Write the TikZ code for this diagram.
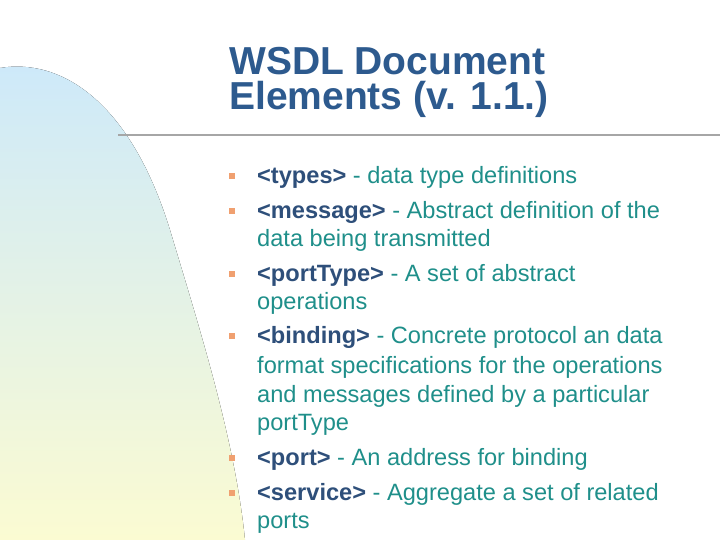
\documentclass[tikz,border=0pt]{standalone}
\usepackage{fontspec}
\setmainfont{Liberation Sans}
\definecolor{ttl}{HTML}{2D5A8E}
\definecolor{tag}{HTML}{2E4F7A}
\definecolor{txt}{HTML}{1F8F8A}
\definecolor{bul}{HTML}{F0A070}
\definecolor{bgtop}{HTML}{CDE9FA}
\definecolor{bgbot}{HTML}{FBFBD2}
\begin{document}
\begin{tikzpicture}[x=1pt,y=-1pt,
  ln/.style={anchor=west,inner sep=0pt,text=txt,font=\fontsize{23.6}{27}\selectfont},
  bl/.style={fill=bul,minimum size=6pt,inner sep=0pt}]
\useasboundingbox (0,0) rectangle (720,540);
\fill[top color=bgtop,bottom color=bgbot] (0,68) .. controls (60,58) and (130,100) .. (170,230) .. controls (200,330) and (235,440) .. (245,540) -- (0,540) -- cycle;
\node[anchor=base west,inner sep=0pt,text=ttl,font=\fontsize{39}{39}\selectfont\bfseries] (t1) at (229,75) {WSDL Document};
\node[anchor=base west,inner sep=0pt,text=ttl,font=\fontsize{39}{39}\selectfont\bfseries] (t2) at (229,110) {Elements (v. 1.1.)};
\coordinate (ra) at (118,135); \coordinate (rb) at (720,135);
\draw[gray!70,line width=1.5pt] (ra) -- (rb);
\foreach \n/\y in {b1/176,b2/211,b3/274,b4/336,b5/458,b6/493}{\node[bl] (\n) at (232,\y) {};}
\newcommand\tg[1]{\textcolor{tag}{\textbf{#1}}}
\node[ln] (l1) at (257,177) {\tg{<types>} - data type definitions};
\node[ln] (l2) at (257,212) {\tg{<message>} - Abstract definition of the};
\node[ln] (l3) at (257,240) {data being transmitted};
\node[ln] (l4) at (257,275) {\tg{<portType>} - A set of abstract};
\node[ln] (l5) at (257,303) {operations};
\node[ln] (l6) at (257,337) {\tg{<binding>} - Concrete protocol an data};
\node[ln] (l7) at (257,367) {format specifications for the operations};
\node[ln] (l8) at (257,396) {and messages defined by a particular};
\node[ln] (l9) at (257,425) {portType};
\node[ln] (l10) at (257,459) {\tg{<port>} - An address for binding};
\node[ln] (l11) at (257,494) {\tg{<service>} - Aggregate a set of related};
\node[ln] (l12) at (257,523) {ports};
\end{tikzpicture}
\end{document}
